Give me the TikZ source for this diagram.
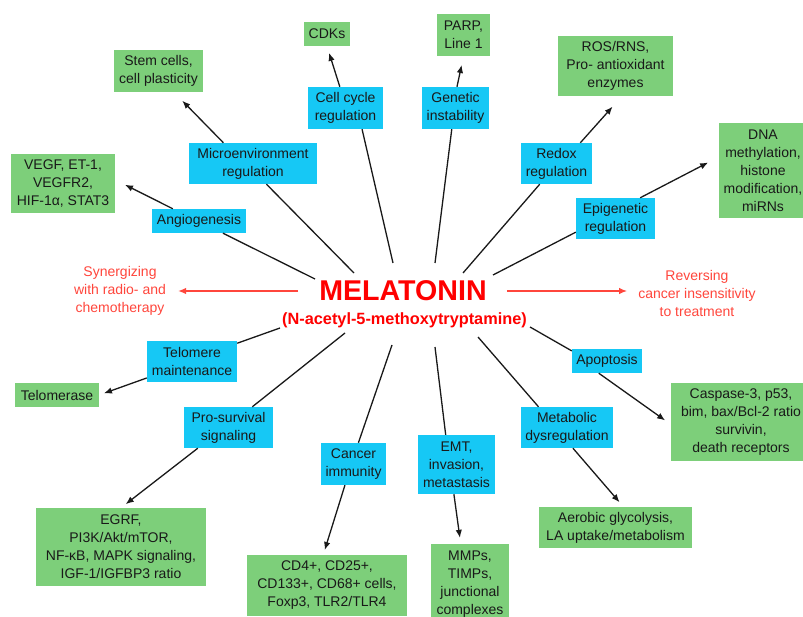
\documentclass[tikz,border=0pt]{standalone}
\usepackage{fontspec}
\setmainfont{Liberation Sans}
\usetikzlibrary{arrows.meta}
\definecolor{cellblue}{RGB}{22,200,245}
\definecolor{markgreen}{RGB}{125,207,122}
\definecolor{melred}{RGB}{255,0,0}
\definecolor{sidered}{RGB}{255,70,60}
\begin{document}
\begin{tikzpicture}[x=1pt,y=-1pt,
    font=\fontsize{14}{18}\selectfont,
    bluebox/.style={fill=cellblue, text=black!90, align=center, inner xsep=2pt, inner ysep=2pt},
    greenbox/.style={fill=markgreen, text=black!90, align=center, inner xsep=2pt, inner ysep=2pt},
    link/.style={line width=1.3pt, black!90},
    arr/.style={link, -{Latex[length=8pt,width=6.5pt]}},
    redarr/.style={line width=1.3pt, sidered, -{Latex[length=8pt,width=6.5pt]}},
    sidetext/.style={text=sidered, align=center, inner sep=0pt}]
    \useasboundingbox (0,0) rectangle (803,617);
    \clip (0,0) rectangle (803,617);
    \fill[white] (0,0) rectangle (803,617);
    % centre
    \node (mel) at (403,291) [inner sep=0pt, text=melred, font=\fontsize{28.6}{32}\selectfont\bfseries] {MELATONIN};
    \node (melsub) at (404.5,320) [inner sep=0pt, text=melred, font=\fontsize{16.3}{18}\selectfont\bfseries] {(N-acetyl-5-methoxytryptamine)};
    \node (syn) at (120,291) [sidetext] {Synergizing\\with radio- and\\chemotherapy};
    \node (rev) at (697,293) [sidetext] {Reversing\\cancer insensitivity\\to treatment};
    \draw[redarr, shorten <=21, shorten >=12] (mel.west) -- (syn.east |- mel.west);
    \draw[redarr, shorten <=20, shorten >=11] (mel.east) -- (rev.west |- mel.east);
    % processes
    \node (cycle) at (345.5,108) [bluebox, minimum width=75, minimum height=42] {Cell cycle\\regulation};
    \node (genetic) at (455.5,108) [bluebox, minimum width=67, minimum height=42] {Genetic\\instability};
    \node (micro) at (253,163.5) [bluebox, minimum width=128, minimum height=41] {Microenvironment\\regulation};
    \node (redox) at (556.5,163.5) [bluebox, minimum width=71, minimum height=41] {Redox\\regulation};
    \node (angio) at (199,221) [bluebox, minimum width=94, minimum height=24] {Angiogenesis};
    \node (epi) at (615.5,218.5) [bluebox, minimum width=79, minimum height=41] {Epigenetic\\regulation};
    \node (telo) at (192,361.5) [bluebox, minimum width=90, minimum height=41] {Telomere\\maintenance};
    \node (apop) at (607,361) [bluebox, minimum width=70, minimum height=24] {Apoptosis};
    \node (prosurv) at (228.5,427.5) [bluebox, minimum width=89, minimum height=41] {Pro-survival\\signaling};
    \node (metab) at (567,427.5) [bluebox, minimum width=92, minimum height=41] {Metabolic\\dysregulation};
    \node (immun) at (353.5,464) [bluebox, minimum width=65, minimum height=42] {Cancer\\immunity};
    \node (emt) at (456.5,464.5) [bluebox, minimum width=77, minimum height=59] {EMT,\\invasion,\\metastasis};
    % targets
    \node (cdk) at (327,34) [greenbox, minimum width=46, minimum height=24] {CDKs};
    \node (parp) at (463.5,35) [greenbox, minimum width=53, minimum height=42] {PARP,\\Line 1};
    \node (stem) at (158.5,71) [greenbox, minimum width=89, minimum height=42] {Stem cells,\\cell plasticity};
    \node (ros) at (615.5,66) [greenbox, minimum width=115, minimum height=60] {ROS/RNS,\\Pro- antioxidant\\enzymes};
    \node (vegf) at (63,183.5) [greenbox, minimum width=104, minimum height=59] {VEGF, ET-1,\\VEGFR2,\\HIF-1α, STAT3};
    \node (dna) at (763,170.5) [greenbox, minimum width=88, minimum height=95] {DNA\\methylation,\\histone\\modification,\\miRNs};
    \node (telom) at (57,395) [greenbox, minimum width=84, minimum height=24] {Telomerase};
    \node (casp) at (741,422) [greenbox, minimum width=140, minimum height=78] {Caspase-3, p53,\\bim, bax/Bcl-2 ratio\\survivin,\\death receptors};
    \node (egrf) at (121,547) [greenbox, minimum width=170, minimum height=78] {EGRF,\\PI3K/Akt/mTOR,\\NF-κB, MAPK signaling,\\IGF-1/IGFBP3 ratio};
    \node (cd) at (327,585.5) [greenbox, minimum width=160, minimum height=61] {CD4+, CD25+,\\CD133+, CD68+ cells,\\Foxp3, TLR2/TLR4};
    \node (mmp) at (470,584) [greenbox, minimum width=78, minimum height=80] {MMPs,\\TIMPs,\\junctional\\complexes};
    \node (aero) at (615.5,527.5) [greenbox, minimum width=153, minimum height=41] {Aerobic glycolysis,\\LA uptake/metabolism};
    % spoke ends next to the centre
    \coordinate (s-angio) at (315,279); \coordinate (s-micro) at (354,273);
    \coordinate (s-cycle) at (393,263); \coordinate (s-genetic) at (435,263);
    \coordinate (s-redox) at (463,273); \coordinate (s-epi) at (493,275);
    \coordinate (s-telo) at (280,328); \coordinate (s-prosurv) at (345,333);
    \coordinate (s-immun) at (392,345); \coordinate (s-emt) at (435,347);
    \coordinate (s-metab) at (478,337); \coordinate (s-apop) at (530,327);
    \draw[link] (s-cycle) -- (cycle.-52); \draw[arr, shorten >=7] (cycle.105) -- (cdk.south);
    \draw[link] (s-genetic) -- (genetic.-100); \draw[arr, shorten >=9] (genetic.86) -- (parp.south);
    \draw[link] (s-micro) -- (micro.-57); \draw[arr, shorten >=12] (micro.145) -- (stem.-54);
    \draw[link] (s-angio) -- (angio.-27); \draw[arr, shorten >=11] (angio.155) -- (vegf.4);
    \draw[link] (s-redox) -- (redox.-129); \draw[arr, shorten >=14] (redox.41) -- (ros.-78);
    \draw[link] (s-epi) -- (epi.-161); \draw[arr, shorten >=12] (epi.40) -- (dna.163);
    \draw[link] (s-telo) -- (telo.22); \draw[arr, shorten >=5] (telo.-160) -- (telom.east);
    \draw[link] (s-apop) -- (apop.164); \draw[arr, shorten >=7] (apop.-124) -- (casp.182);
    \draw[link] (s-prosurv) -- (prosurv.41); \draw[arr, shorten >=6] (prosurv.-146) -- (egrf.north);
    \draw[link] (s-metab) -- (metab.144); \draw[arr, shorten >=6] (metab.-74) -- (aero.69);
    \draw[link] (s-immun) -- (immun.77); \draw[arr, shorten >=5] (immun.-112) -- (cd.97);
    \draw[link] (s-emt) -- (emt.110); \draw[arr, shorten >=6] (emt.-95) -- (mmp.103);
\end{tikzpicture}
\end{document}
